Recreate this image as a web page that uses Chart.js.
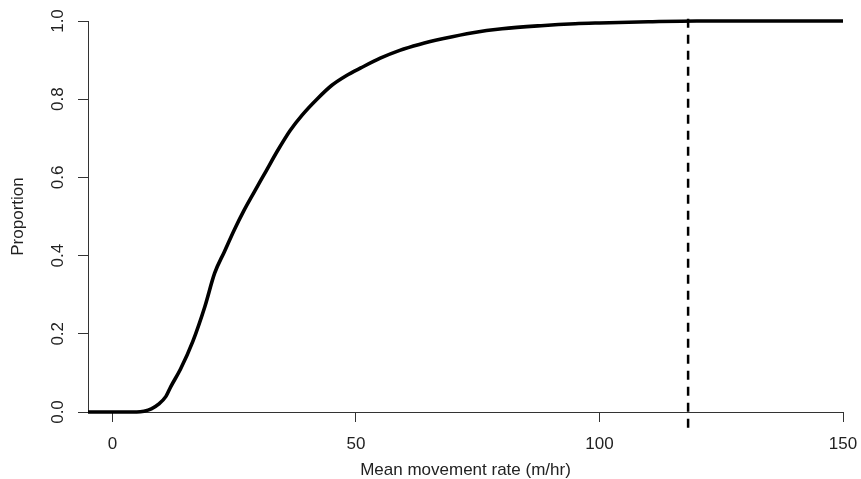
<!DOCTYPE html>
<html>
<head>
<meta charset="utf-8">
<script src="https://cdn.jsdelivr.net/npm/chart.js@4/dist/chart.umd.min.js"></script>
<style>
  html, body { margin: 0; padding: 0; background: #fff; }
  #wrap { width: 861px; height: 479px; }
</style>
</head>
<body>
<div id="wrap"><canvas id="chart"></canvas></div>
<script>
// --- data (ECDF of mean movement rate) ---
const rate = [-5, 0, 5, 6.5, 8, 9.5, 11, 12, 14, 16.5, 19, 21, 23, 25, 27, 29, 31.5, 34, 36.5, 39, 42, 45, 48, 51, 55, 59, 63, 68, 74, 80, 88, 95, 100, 110, 120, 130, 140, 150, 154];
const proportion = [0, 0, 0, 0.002, 0.008, 0.02, 0.04, 0.065, 0.11, 0.18, 0.27, 0.355, 0.41, 0.465, 0.515, 0.56, 0.615, 0.67, 0.72, 0.76, 0.80, 0.835, 0.86, 0.88, 0.905, 0.925, 0.94, 0.955, 0.97, 0.98, 0.988, 0.993, 0.995, 0.998, 1, 1, 1, 1, 1];
const cutoff = 118.2;
const cutoffSpan = [-0.04, 1.02];
const xTicks = [0, 50, 100, 150];
const yTicks = [0, 0.2, 0.4, 0.6, 0.8, 1.0];

const FONT = '"Liberation Sans", Arial, sans-serif';
const AXIS = '#333';
const TEXT = '#222';

// y tick labels in R are rotated, Chart.js won't rotate vertical axis labels
const rotatedYLabels = {
    id: 'rotatedYLabels',
    afterDraw(chart) {
        const y = chart.scales.y;
        const ctx = chart.ctx;
        ctx.save();
        ctx.fillStyle = TEXT;
        ctx.font = '17px ' + FONT;
        ctx.textAlign = 'center';
        ctx.textBaseline = 'middle';
        yTicks.forEach(v => {
            ctx.save();
            ctx.translate(58, y.getPixelForValue(v));
            ctx.rotate(-Math.PI / 2);
            ctx.fillText(v.toFixed(1), 0, 0);
            ctx.restore();
        });
        ctx.restore();
    }
};

const curve = rate.map((r, i) => ({ x: r, y: proportion[i] }));
const vline = cutoffSpan.map(p => ({ x: cutoff, y: p }));

new Chart(document.getElementById('chart'), {
    type: 'line',
    data: {
        datasets: [
            { data: curve, borderColor: '#000', borderWidth: 3.6, pointRadius: 0, cubicInterpolationMode: 'monotone', clip: false },
            { data: vline, borderColor: '#000', borderWidth: 2.5, borderDash: [9, 7], pointRadius: 0, clip: false }
        ]
    },
    options: {
        responsive: true, maintainAspectRatio: false, animation: false,
        layout: { padding: { top: 21, right: 18, left: 0, bottom: 0 } },
        plugins: { legend: { display: false }, tooltip: { enabled: false } },
        scales: {
            x: {
                type: 'linear', min: -5, max: 150,
                afterBuildTicks: s => { s.ticks = xTicks.map(v => ({ value: v })); },
                afterFit: s => { s.height = 67; s.paddingLeft = 0; s.paddingRight = 0; },
                grid: { drawOnChartArea: false, drawTicks: true, tickLength: 10, color: AXIS, lineWidth: 1 },
                border: { display: true, color: AXIS, width: 1 },
                ticks: { color: TEXT, font: { family: FONT, size: 17 }, padding: 12, maxRotation: 0 },
                title: { display: true, text: 'Mean movement rate (m/hr)', color: TEXT, font: { family: FONT, size: 17 }, padding: { top: 0, bottom: -2 } }
            },
            y: {
                type: 'linear', min: 0, max: 1,
                afterBuildTicks: s => { s.ticks = yTicks.map(v => ({ value: v })); },
                afterFit: s => { s.width = 88; s.paddingTop = 0; s.paddingBottom = 0; },
                grid: { drawOnChartArea: false, drawTicks: true, tickLength: 10, color: AXIS, lineWidth: 1 },
                border: { display: true, color: AXIS, width: 1 },
                ticks: { display: false },
                title: { display: true, text: 'Proportion', color: TEXT, font: { family: FONT, size: 17 }, padding: { top: 8, bottom: 0 } }
            }
        }
    },
    plugins: [rotatedYLabels]
});
</script>
</body>
</html>
